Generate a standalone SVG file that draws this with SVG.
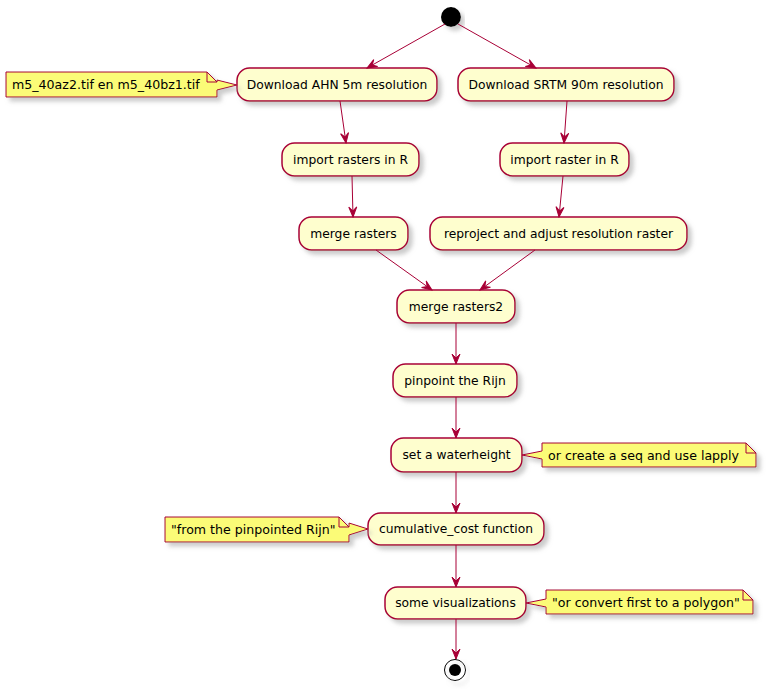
<svg xmlns="http://www.w3.org/2000/svg" width="766" height="690" viewBox="0 0 766 690">
<style>
.n{fill:#FEFECE;stroke:#A80036;stroke-width:1.5;filter:url(#sh)}
.note{fill:#FBFB77;stroke:#A80036;stroke-width:1;filter:url(#sh)}
.fold{fill:none;stroke:#A80036;stroke-width:1}
.t{font-family:"DejaVu Sans",sans-serif;font-size:12.3px;fill:#000;text-anchor:middle}
.tl{font-family:"DejaVu Sans",sans-serif;font-size:12.6px;fill:#000}
.e{stroke:#A80036;stroke-width:1;fill:none}
</style>
<defs>
<filter id="sh" x="-10%" y="-20%" width="130%" height="160%">
<feGaussianBlur in="SourceAlpha" stdDeviation="2" result="b"/>
<feOffset in="b" dx="4" dy="4" result="o"/>
<feColorMatrix in="o" type="matrix" values="0 0 0 0 0.4  0 0 0 0 0.4  0 0 0 0 0.4  0 0 0 0.6 0" result="c"/>
<feMerge><feMergeNode in="c"/><feMergeNode in="SourceGraphic"/></feMerge>
</filter>
<marker id="arr" viewBox="-1 -1 12 12" refX="10" refY="5" markerWidth="12" markerHeight="12" markerUnits="userSpaceOnUse" orient="auto">
<path d="M0,1 L10,5 L0,9 L4,5 Z" fill="#A80036" stroke="#A80036" stroke-width="1" stroke-linejoin="miter"/>
</marker>
</defs>

<g id="start"><circle cx="451" cy="17" r="10" fill="#000" filter="url(#sh)"/></g>

<g id="n1"><rect class="n" x="237" y="68" width="200" height="33" rx="12.5"/><text class="t" x="337" y="89">Download AHN 5m resolution</text></g>
<g id="n2"><rect class="n" x="458" y="68" width="216" height="33" rx="12.5"/><text class="t" x="566" y="89">Download SRTM 90m resolution</text></g>
<g id="n3"><rect class="n" x="282" y="143" width="137" height="33" rx="12.5"/><text class="t" x="350.5" y="164">import rasters in R</text></g>
<g id="n4"><rect class="n" x="500" y="143" width="129" height="33" rx="12.5"/><text class="t" x="564.5" y="164">import raster in R</text></g>
<g id="n5"><rect class="n" x="299" y="217" width="109" height="33" rx="12.5"/><text class="t" x="353.5" y="238">merge rasters</text></g>
<g id="n6"><rect class="n" x="430" y="217" width="257" height="33" rx="12.5"/><text class="t" x="558.5" y="238">reproject and adjust resolution raster</text></g>
<g id="n7"><rect class="n" x="397" y="290" width="118" height="33" rx="12.5"/><text class="t" x="456" y="311">merge rasters2</text></g>
<g id="n8"><rect class="n" x="393" y="364" width="124" height="33" rx="12.5"/><text class="t" x="455" y="385">pinpoint the Rijn</text></g>
<g id="n9"><rect class="n" x="391" y="438" width="131" height="34" rx="12.5"/><text class="t" x="456.5" y="459">set a waterheight</text></g>
<g id="n10"><rect class="n" x="368" y="513" width="176" height="32" rx="12.5"/><text class="t" x="456" y="533">cumulative_cost function</text></g>
<g id="n11"><rect class="n" x="385" y="587" width="141" height="32" rx="12.5"/><text class="t" x="455.5" y="607">some visualizations</text></g>

<g id="end"><circle cx="455" cy="670" r="10.5" fill="none" stroke="#000" stroke-width="1" filter="url(#sh)"/><circle cx="455" cy="670" r="6" fill="#000"/></g>

<g id="note1">
<path class="note" d="M6,72 L207,72 L217,82 L217,80 L237,85 L217,90 L217,97 L6,97 Z"/>
<path class="fold" d="M207,72 L207,82 L217,82"/>
<text class="tl" x="12" y="89">m5_40az2.tif en m5_40bz1.tif</text>
</g>
<g id="note2">
<path class="note" d="M542,443 L746,443 L756,453 L756,467 L542,467 L542,459 L522,455 L542,451 Z"/>
<path class="fold" d="M746,443 L746,453 L756,453"/>
<text class="tl" x="548" y="460">or create a seq and use lapply</text>
</g>
<g id="note3">
<path class="note" d="M165,517 L339,517 L349,527 L349,523 L368,529 L349,535 L349,542 L165,542 Z"/>
<path class="fold" d="M339,517 L339,527 L349,527"/>
<text class="tl" x="171" y="534">"from the pinpointed Rijn"</text>
</g>
<g id="note4">
<path class="note" d="M546,590 L743,590 L753,600 L753,614 L546,614 L546,607 L526,603 L546,599 Z"/>
<path class="fold" d="M743,590 L743,600 L753,600"/>
<text class="tl" x="552" y="607">"or convert first to a polygon"</text>
</g>

<g id="edges">
<line class="e" x1="445" y1="24" x2="367" y2="68" marker-end="url(#arr)"/>
<line class="e" x1="458" y1="24" x2="536" y2="68" marker-end="url(#arr)"/>
<line class="e" x1="340" y1="101" x2="346" y2="143" marker-end="url(#arr)"/>
<line class="e" x1="567" y1="101" x2="564" y2="143" marker-end="url(#arr)"/>
<line class="e" x1="352" y1="176" x2="353" y2="217" marker-end="url(#arr)"/>
<line class="e" x1="563" y1="176" x2="559" y2="217" marker-end="url(#arr)"/>
<line class="e" x1="376" y1="250" x2="432" y2="290" marker-end="url(#arr)"/>
<line class="e" x1="535" y1="250" x2="480" y2="290" marker-end="url(#arr)"/>
<line class="e" x1="456" y1="323" x2="456" y2="364" marker-end="url(#arr)"/>
<line class="e" x1="456" y1="397" x2="456" y2="438" marker-end="url(#arr)"/>
<line class="e" x1="456" y1="472" x2="456" y2="513" marker-end="url(#arr)"/>
<line class="e" x1="456" y1="545" x2="456" y2="587" marker-end="url(#arr)"/>
<line class="e" x1="456" y1="619" x2="456" y2="659" marker-end="url(#arr)"/>
</g>
</svg>
